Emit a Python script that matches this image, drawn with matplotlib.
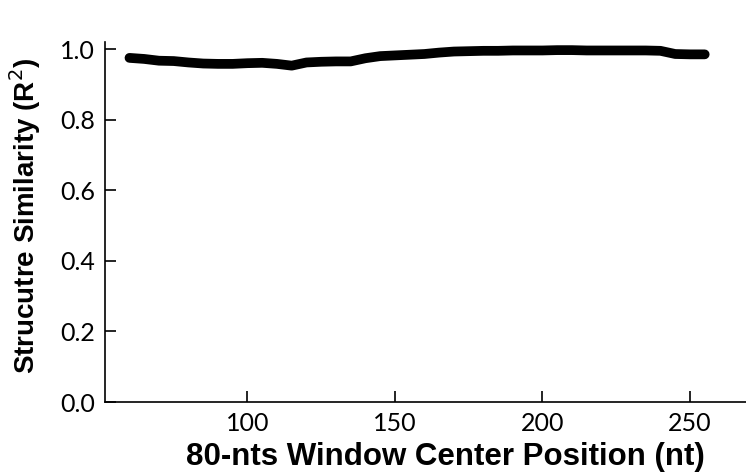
import numpy as np
import matplotlib
matplotlib.use('Agg')
import matplotlib.pyplot as plt

# window center position (nt) and structure similarity (R^2)
position = [60, 65, 70, 75, 80, 85, 90, 95, 100, 105,
            110, 115, 120, 125, 130, 135, 140, 145, 150, 155,
            160, 165, 170, 175, 180, 185, 190, 195, 200, 205,
            210, 215, 220, 225, 230, 235, 240, 245, 250, 255]
similarity = [0.975, 0.972, 0.967, 0.966, 0.962, 0.959, 0.958, 0.958, 0.960, 0.961,
              0.958, 0.953, 0.962, 0.964, 0.965, 0.965, 0.974, 0.980, 0.982, 0.984,
              0.986, 0.990, 0.993, 0.994, 0.995, 0.995, 0.996, 0.996, 0.996, 0.997,
              0.997, 0.996, 0.996, 0.996, 0.996, 0.996, 0.995, 0.986, 0.985, 0.985]

xticks = [100, 150, 200, 250]
yticks = [0.0, 0.2, 0.4, 0.6, 0.8, 1.0]

W, H = 746, 475
fig = plt.figure(figsize=(W / 100, H / 100), dpi=100)
ax = fig.add_axes([105 / W, 1 - 402 / H, 1 - 105 / W, (402 - 42) / H])

ax.plot(position, similarity, color='black', linewidth=7,
        solid_capstyle='round', solid_joinstyle='round')

ax.set_xlim(51.7, 269)
ax.set_ylim(0, 1.02)

ax.spines['top'].set_visible(False)
ax.spines['right'].set_visible(False)
for s in ['left', 'bottom']:
    ax.spines[s].set_linewidth(1.2)

ax.set_xticks(xticks)
ax.set_yticks(yticks)
ax.set_xticklabels([str(v) for v in xticks], family='Lato', fontsize=18)
ax.set_yticklabels(['%.1f' % v for v in yticks], family='Lato', fontsize=18)
ax.tick_params(direction='in', length=8, width=1.2, pad=7)

ax.set_xlabel('80-nts Window Center Position (nt)', family='Liberation Sans',
              fontweight='bold', fontsize=22.5)
ax.set_ylabel('Strucutre Similarity (R$^2$)', family='Liberation Sans',
              fontweight='bold', fontsize=20)

# label placement (axes fraction) - the x title sits a bit right of center
ax.xaxis.set_label_coords((445 - 105) / 641, (402 - 442) / 360)
ax.yaxis.set_label_coords((43 - 105) / 641, (402 - 216) / 360)

plt.savefig('out.png', dpi=100)
